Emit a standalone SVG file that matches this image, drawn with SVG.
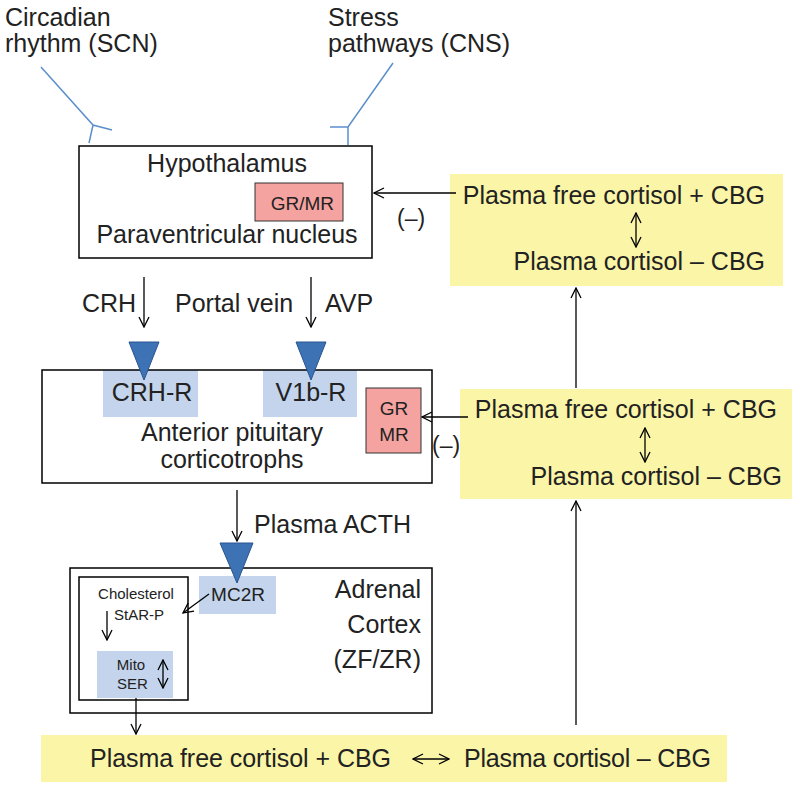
<svg xmlns="http://www.w3.org/2000/svg" width="800" height="790" viewBox="0 0 800 790">
<defs>
<marker id="a" markerWidth="12" markerHeight="12" refX="11" refY="6" orient="auto-start-reverse" markerUnits="userSpaceOnUse"><path d="M1,1 L11,6 L1,11" fill="none" stroke="#000" stroke-width="1.3"/></marker>
</defs>
<style>
text{font-family:"Liberation Sans",Arial,sans-serif;fill:#222}
.b{font-size:25px}.m{font-size:19px}.n{font-size:23px}.s{font-size:15px}
.box{fill:none;stroke:#000;stroke-width:1.5}
.y{fill:#fbf5a8;stroke:none}
.red{fill:#f4a3a0;stroke:#333;stroke-width:1}
.blue{fill:#c3d4ec;stroke:none}
.tri{fill:#3d72b4;stroke:#2a5590;stroke-width:1}
.c{stroke:#000;stroke-width:1.3;fill:none}
.bl{stroke:#5b8fcc;stroke-width:1.5;fill:none}
</style>
<g id="inputs">
<text class="b" x="5" y="26">Circadian</text><text class="b" x="5" y="52">rhythm (SCN)</text>
<text class="b" x="328" y="26">Stress</text><text class="b" x="328" y="52">pathways (CNS)</text>
</g>
<g id="hypothalamus">
<rect class="box" x="79" y="146" width="293" height="112"/>
<text class="b" x="227" y="172" text-anchor="middle">Hypothalamus</text>
<rect class="red" x="255" y="183" width="88" height="38"/>
<text class="m" x="334" y="210" text-anchor="end">GR/MR</text>
<text class="b" x="227" y="243" text-anchor="middle">Paraventricular nucleus</text>
</g>
<g id="plasma-top">
<rect class="y" x="450" y="174" width="333" height="112"/>
<text class="b" x="765" y="204" text-anchor="end">Plasma free cortisol + CBG</text>
<text class="b" x="765" y="270" text-anchor="end">Plasma cortisol – CBG</text>
</g>
<g id="pituitary">
<rect class="blue" x="103" y="370" width="95" height="47"/>
<rect class="blue" x="263" y="370" width="94" height="47"/>
<rect class="box" x="42" y="370" width="390" height="113"/>
<text class="b" x="152" y="401" text-anchor="middle">CRH-R</text>
<text class="b" x="311" y="401" text-anchor="middle">V1b-R</text>
<rect class="red" x="366" y="388" width="55" height="65"/>
<text class="m" x="394" y="415" text-anchor="middle">GR</text>
<text class="m" x="394" y="441" text-anchor="middle">MR</text>
<text class="b" x="232" y="441" text-anchor="middle">Anterior pituitary</text>
<text class="b" x="232" y="468" text-anchor="middle">corticotrophs</text>
</g>
<g id="plasma-mid">
<rect class="y" x="460" y="389" width="332" height="110"/>
<text class="b" x="777" y="418" text-anchor="end">Plasma free cortisol + CBG</text>
<text class="b" x="782" y="485" text-anchor="end">Plasma cortisol – CBG</text>
</g>
<g id="adrenal">
<rect class="box" x="70" y="568" width="362" height="145"/>
<rect class="box" x="79" y="577" width="109" height="123"/>
<rect class="blue" x="199" y="576" width="77" height="38" stroke="#333" stroke-width="1"/>
<text class="m" x="238" y="601" text-anchor="middle">MC2R</text>
<text class="b" x="421" y="598" text-anchor="end">Adrenal</text>
<text class="b" x="421" y="633" text-anchor="end">Cortex</text>
<text class="b" x="421" y="668" text-anchor="end">(ZF/ZR)</text>
<text class="s" x="136" y="599" text-anchor="middle">Cholesterol</text>
<text class="s" x="114" y="620">StAR-P</text>
<rect class="blue" x="97" y="651" width="76" height="47" stroke="#3d6fae" stroke-width="3"/>
<text class="s" x="131" y="670" text-anchor="middle">Mito</text>
<text class="s" x="117" y="689">SER</text>
</g>
<g id="plasma-bottom">
<rect class="y" x="41" y="735" width="686" height="47"/>
<text class="b" x="90" y="767" textLength="301">Plasma free cortisol + CBG</text>
<text class="b" x="464" y="767" textLength="247">Plasma cortisol – CBG</text>
</g>
<g id="connectors">
<path class="bl" d="M41,67 L93,125 L112,130 M93,125 L89,143"/>
<path class="bl" d="M393,63 L348,127 L330,127 M348,127 L348,145"/>
<line class="c" x1="456" y1="193" x2="374" y2="193" marker-end="url(#a)"/>
<text class="n" x="397" y="226">(–)</text>
<line class="c" x1="636" y1="213" x2="636" y2="247" marker-start="url(#a)" marker-end="url(#a)"/>
<text class="b" x="82" y="312">CRH</text>
<text class="b" x="175" y="312">Portal vein</text>
<text class="b" x="325" y="312">AVP</text>
<line class="c" x1="144" y1="277" x2="144" y2="327" marker-end="url(#a)"/>
<line class="c" x1="311" y1="277" x2="311" y2="327" marker-end="url(#a)"/>
<polygon class="tri" points="129,342 159,342 144,380"/>
<polygon class="tri" points="296,342 326,342 311,380"/>
<line class="c" x1="468" y1="417" x2="422" y2="417" marker-end="url(#a)"/>
<text class="n" x="432" y="453">(–)</text>
<line class="c" x1="645" y1="428" x2="645" y2="462" marker-start="url(#a)" marker-end="url(#a)"/>
<line class="c" x1="576" y1="388" x2="576" y2="288" marker-end="url(#a)"/>
<line class="c" x1="576" y1="725" x2="576" y2="501" marker-end="url(#a)"/>
<line class="c" x1="237" y1="490" x2="237" y2="541" marker-end="url(#a)"/>
<text class="b" x="254" y="533">Plasma ACTH</text>
<polygon class="tri" points="220,543 253,543 237,583"/>
<line class="c" x1="209" y1="594" x2="183" y2="613" marker-end="url(#a)"/>
<line class="c" x1="107" y1="611" x2="107" y2="640" marker-end="url(#a)"/>
<line class="c" x1="163" y1="660" x2="163" y2="688" marker-start="url(#a)" marker-end="url(#a)"/>
<line class="c" x1="136" y1="698" x2="136" y2="734" marker-end="url(#a)"/>
<line class="c" x1="413" y1="759" x2="449" y2="759" marker-start="url(#a)" marker-end="url(#a)"/>
</g>
</svg>
